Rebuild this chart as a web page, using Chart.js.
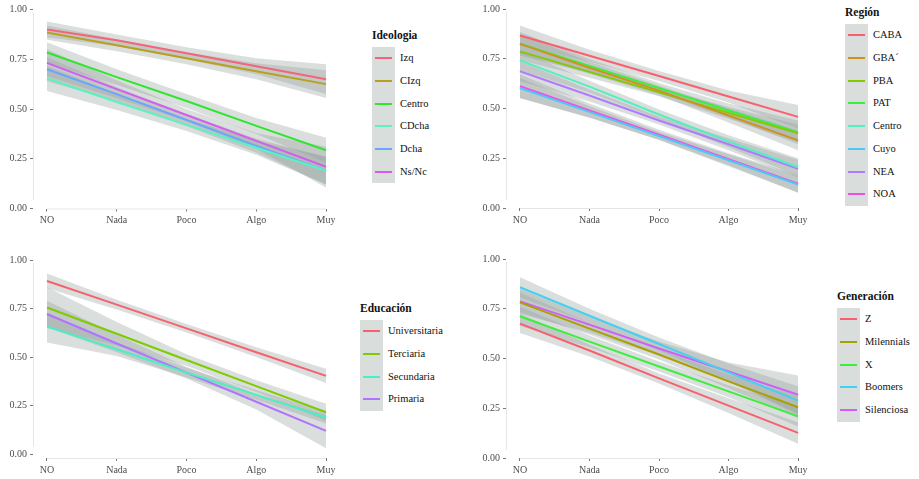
<!DOCTYPE html>
<html>
<head>
<meta charset="utf-8">
<script src="https://cdn.jsdelivr.net/npm/chart.js@4.4.1/dist/chart.umd.min.js"></script>
<style>
  body { margin:0; background:#fff; width:919px; height:479px; position:relative; overflow:hidden;
         font-family:"Liberation Serif","DejaVu Serif",serif; }
  canvas { position:absolute; }
  .leg { position:absolute; color:#111; }
  .leg .ttl { position:absolute; font-weight:bold; font-size:11.5px; white-space:nowrap; line-height:14px; }
  .leg .box { position:absolute; background:#d9dedd; width:23px; }
  .leg .key { position:absolute; left:3px; width:17px; height:2px; }
  .leg .lbl { position:absolute; font-size:10.5px; white-space:nowrap; line-height:12px; }
</style>
</head>
<body>
<canvas id="c1" width="340" height="235" style="left:0;top:0"></canvas>
<canvas id="c2" width="352" height="235" style="left:460px;top:0"></canvas>
<canvas id="c3" width="340" height="239" style="left:0;top:240px"></canvas>
<canvas id="c4" width="352" height="239" style="left:460px;top:240px"></canvas>
<script>
var categories = ['NO', 'Nada', 'Poco', 'Algo', 'Muy'];
var yTicks = [0, 0.25, 0.5, 0.75, 1];

// Ideologia
var ideoLabels = ['Izq', 'CIzq', 'Centro', 'CDcha', 'Dcha', 'Ns/Nc'];
var ideoColors = ['#f4647a', '#b9a01e', '#2ee62e', '#5cf2c0', '#6aa6ff', '#d25ef0'];
var ideoValues = [
  [0.900, 0.845, 0.780, 0.715, 0.650],
  [0.884, 0.820, 0.755, 0.690, 0.625],
  [0.784, 0.660, 0.540, 0.415, 0.293],
  [0.653, 0.535, 0.420, 0.305, 0.190],
  [0.700, 0.575, 0.445, 0.315, 0.190],
  [0.732, 0.600, 0.470, 0.340, 0.210]
];
var ideoHigh = [
  [0.940, 0.875, 0.810, 0.755, 0.725],
  [0.920, 0.850, 0.785, 0.730, 0.695],
  [0.835, 0.700, 0.575, 0.455, 0.355],
  [0.715, 0.575, 0.450, 0.340, 0.260],
  [0.760, 0.610, 0.475, 0.350, 0.260],
  [0.800, 0.645, 0.500, 0.380, 0.310]
];
var ideoLow = [
  [0.860, 0.815, 0.750, 0.675, 0.575],
  [0.848, 0.790, 0.725, 0.650, 0.555],
  [0.733, 0.620, 0.505, 0.375, 0.230],
  [0.590, 0.495, 0.390, 0.270, 0.120],
  [0.640, 0.540, 0.415, 0.280, 0.120],
  [0.665, 0.555, 0.440, 0.300, 0.105]
];

// Region
var regLabels = ['CABA', 'GBA\u00B4', 'PBA', 'PAT', 'Centro', 'Cuyo', 'NEA', 'NOA'];
var regColors = ['#f8606e', '#d0921e', '#86c800', '#3cef3c', '#50f0c0', '#4cc8f8', '#b07cff', '#f24ee6'];
var regValues = [
  [0.867, 0.765, 0.663, 0.560, 0.458],
  [0.825, 0.705, 0.590, 0.465, 0.340],
  [0.787, 0.684, 0.581, 0.478, 0.375],
  [0.825, 0.714, 0.603, 0.490, 0.380],
  [0.742, 0.610, 0.470, 0.335, 0.205],
  [0.603, 0.483, 0.362, 0.240, 0.118],
  [0.687, 0.565, 0.440, 0.320, 0.197],
  [0.612, 0.490, 0.368, 0.245, 0.122]
];
var regHigh = [
  [0.917, 0.795, 0.688, 0.590, 0.518],
  [0.875, 0.735, 0.615, 0.500, 0.390],
  [0.832, 0.714, 0.601, 0.508, 0.420],
  [0.885, 0.749, 0.628, 0.525, 0.440],
  [0.792, 0.640, 0.495, 0.365, 0.250],
  [0.653, 0.513, 0.382, 0.270, 0.158],
  [0.737, 0.595, 0.460, 0.350, 0.242],
  [0.672, 0.525, 0.393, 0.275, 0.167]
];
var regLow = [
  [0.817, 0.735, 0.638, 0.530, 0.398],
  [0.775, 0.675, 0.565, 0.430, 0.290],
  [0.742, 0.654, 0.561, 0.448, 0.330],
  [0.765, 0.679, 0.578, 0.455, 0.320],
  [0.692, 0.580, 0.445, 0.305, 0.160],
  [0.553, 0.453, 0.342, 0.210, 0.078],
  [0.637, 0.535, 0.420, 0.290, 0.152],
  [0.552, 0.455, 0.343, 0.215, 0.077]
];

// Educacion
var eduLabels = ['Universitaria', 'Terciaria', 'Secundaria', 'Primaria'];
var eduColors = ['#f8606e', '#7ccc00', '#48f0c4', '#b074ff'];
var eduValues = [
  [0.892, 0.770, 0.648, 0.525, 0.403],
  [0.755, 0.620, 0.485, 0.350, 0.216],
  [0.657, 0.540, 0.420, 0.305, 0.189],
  [0.722, 0.570, 0.420, 0.270, 0.120]
];
var eduHigh = [
  [0.930, 0.795, 0.670, 0.550, 0.440],
  [0.860, 0.680, 0.515, 0.380, 0.260],
  [0.720, 0.575, 0.445, 0.330, 0.220],
  [0.790, 0.615, 0.450, 0.310, 0.200]
];
var eduLow = [
  [0.854, 0.745, 0.626, 0.500, 0.366],
  [0.650, 0.560, 0.455, 0.320, 0.172],
  [0.575, 0.505, 0.395, 0.280, 0.158],
  [0.654, 0.525, 0.390, 0.230, 0.030]
];

// Generacion
var genLabels = ['Z', 'Milennials', 'X', 'Boomers', 'Silenciosa'];
var genColors = ['#f8606e', '#aaa000', '#3cef3c', '#44d0f0', '#d05ef8'];
var genValues = [
  [0.675, 0.540, 0.400, 0.263, 0.126],
  [0.782, 0.650, 0.520, 0.385, 0.255],
  [0.712, 0.585, 0.460, 0.335, 0.209],
  [0.858, 0.715, 0.573, 0.430, 0.288],
  [0.787, 0.670, 0.550, 0.435, 0.318]
];
var genHigh = [
  [0.725, 0.570, 0.425, 0.300, 0.180],
  [0.830, 0.680, 0.545, 0.420, 0.310],
  [0.760, 0.615, 0.485, 0.365, 0.260],
  [0.908, 0.750, 0.605, 0.475, 0.360],
  [0.850, 0.710, 0.585, 0.480, 0.414]
];
var genLow = [
  [0.628, 0.510, 0.375, 0.226, 0.072],
  [0.734, 0.620, 0.495, 0.350, 0.200],
  [0.664, 0.555, 0.435, 0.305, 0.158],
  [0.808, 0.680, 0.540, 0.385, 0.216],
  [0.724, 0.630, 0.515, 0.390, 0.222]
];

var FONT = '"Liberation Serif", "DejaVu Serif", serif';
var bandFill = 'rgba(150,160,158,0.35)';

function pts(arr) {
  return arr.map(function(v, i) { return {x: i, y: v}; });
}

// light axis lines like the ggplot figure (x line spans data range)
var axisLines = {
  id: 'axisLines',
  afterDraw: function(chart) {
    var ctx = chart.ctx, xs = chart.scales.x, ys = chart.scales.y;
    ctx.save();
    ctx.strokeStyle = '#e4e6e6';
    ctx.lineWidth = 1;
    ctx.beginPath();
    ctx.moveTo(xs.getPixelForValue(0), ys.bottom + 0.5);
    ctx.lineTo(xs.getPixelForValue(4), ys.bottom + 0.5);
    ctx.moveTo(xs.left + 0.5, ys.getPixelForValue(0.985));
    ctx.lineTo(xs.left + 0.5, ys.getPixelForValue(0.04));
    ctx.stroke();
    ctx.restore();
  }
};

function makePanel(id, values, high, low, colors, opt) {
  var datasets = [];
  values.forEach(function(v, i) {
    datasets.push({data: pts(v), borderColor: colors[i], borderWidth: 2, pointRadius: 0, fill: false});
  });
  values.forEach(function(v, i) {
    datasets.push({data: pts(high[i]), borderWidth: 0, pointRadius: 0, backgroundColor: bandFill, fill: '+1'});
    datasets.push({data: pts(low[i]), borderWidth: 0, pointRadius: 0, fill: false});
  });
  new Chart(document.getElementById(id), {
    type: 'line',
    data: {datasets: datasets},
    plugins: [axisLines],
    options: {
      responsive: false,
      devicePixelRatio: 1,
      animation: false,
      events: [],
      layout: {padding: {top: opt.top, right: 0, bottom: 0, left: 0}},
      plugins: {legend: {display: false}, tooltip: {enabled: false}},
      scales: {
        x: {
          type: 'linear', min: -0.2, max: 4.2,
          afterFit: function(s) { s.height = opt.xh; },
          afterBuildTicks: function(s) { s.ticks = categories.map(function(c, i) { return {value: i}; }); },
          border: {display: false},
          grid: {drawOnChartArea: false, color: 'transparent', tickColor: '#777', tickLength: 3},
          ticks: {padding: 3, color: '#4d4d4d', font: {family: FONT, size: 10},
                  maxRotation: 0, autoSkip: false,
                  callback: function(v) { return categories[v]; }}
        },
        y: {
          min: opt.ymin, max: 1,
          afterFit: function(s) { s.width = opt.yw; },
          afterBuildTicks: function(s) { s.ticks = yTicks.map(function(t) { return {value: t}; }); },
          border: {display: false},
          grid: {drawOnChartArea: false, color: 'transparent', tickColor: '#777', tickLength: 3},
          ticks: {padding: 3, color: '#4d4d4d', font: {family: FONT, size: 10},
                  callback: function(v) { return v.toFixed(2); }}
        }
      }
    }
  });
}

function makeLegend(left, boxTop, title, labels, colors) {
  var row = 22.7;
  var d = document.createElement('div');
  d.className = 'leg';
  d.style.left = left + 'px';
  d.style.top = boxTop + 'px';
  var html = '<div class="ttl" style="left:0;top:-19px">' + title + '</div>';
  html += '<div class="box" style="left:0;top:0;height:' + (row * labels.length) + 'px"></div>';
  labels.forEach(function(l, i) {
    var cy = row * i + row / 2;
    html += '<div class="key" style="top:' + (cy - 1) + 'px;background:' + colors[i] + '"></div>';
    html += '<div class="lbl" style="left:28px;top:' + (cy - 6) + 'px">' + l + '</div>';
  });
  d.innerHTML = html;
  document.body.appendChild(d);
}

makePanel('c1', ideoValues, ideoHigh, ideoLow, ideoColors, {top: 9.5, xh: 26.5, yw: 33, ymin: 0});
makePanel('c2', regValues, regHigh, regLow, regColors, {top: 8, xh: 27, yw: 46, ymin: 0});
makePanel('c3', eduValues, eduHigh, eduLow, eduColors, {top: 20, xh: 21, yw: 33, ymin: -0.02});
makePanel('c4', genValues, genHigh, genLow, genColors, {top: 19, xh: 21, yw: 46, ymin: 0});

makeLegend(372, 47, 'Ideologia', ideoLabels, ideoColors);
makeLegend(845, 24, 'Regi\u00f3n', regLabels, regColors);
makeLegend(360, 320, 'Educaci\u00f3n', eduLabels, eduColors);
makeLegend(837, 308, 'Generaci\u00f3n', genLabels, genColors);
</script>
</body>
</html>
